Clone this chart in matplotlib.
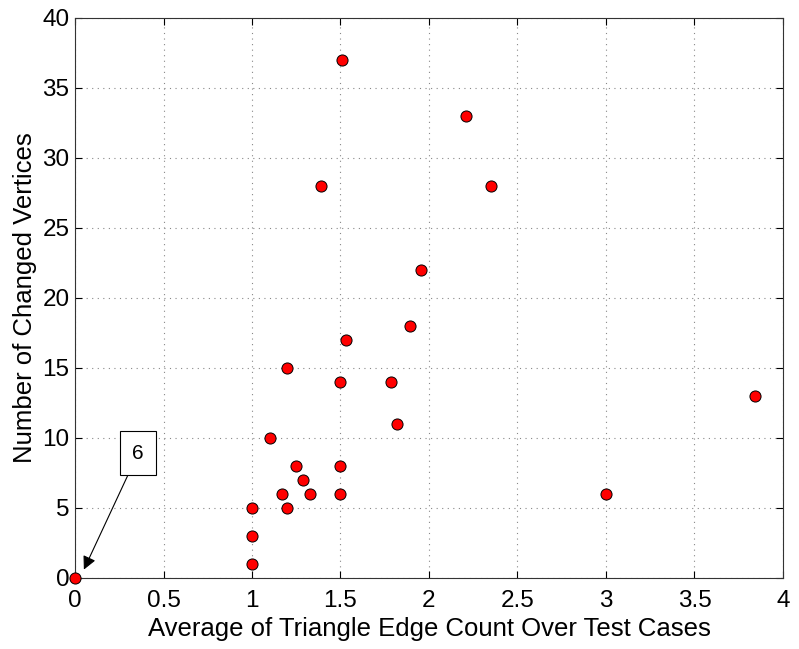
import matplotlib
matplotlib.use("Agg")
import matplotlib.pyplot as plt

x_vals = [0, 1, 1, 1, 1.1, 1.17, 1.2, 1.2, 1.25, 1.29, 1.33, 1.39, 1.5, 1.5, 1.5,
          1.51, 1.53, 1.785, 1.82, 1.89, 1.955, 2.21, 2.35, 3.0, 3.84]
y_vals = [0, 1, 3, 5, 10, 6, 15, 5, 8, 7, 6, 28, 14, 8, 6,
          37, 17, 14, 11, 18, 22, 33, 28, 6, 13]
x_ticks = [0, 0.5, 1, 1.5, 2, 2.5, 3, 3.5, 4]
x_tick_labels = ["0", "0.5", "1", "1.5", "2", "2.5", "3", "3.5", "4"]
y_ticks = [0, 5, 10, 15, 20, 25, 30, 35, 40]
annot_text = "6"
annot_xy = (0.05, 0.6)
annot_text_xy = (0.356, 8.9)

plt.rcParams['font.family'] = ['Liberation Sans', 'DejaVu Sans']

fig = plt.figure(figsize=(7.99, 6.49), dpi=100)
ax = fig.add_axes([0.0939, 0.1094, 0.886, 0.8629])

ax.plot(x_vals, y_vals, linestyle='none', marker='o', markersize=8,
        markerfacecolor='#ff0000', markeredgecolor='black', markeredgewidth=0.7,
        clip_on=False, zorder=3)

ax.set_xlim(0, 4)
ax.set_ylim(0, 40)
ax.set_xticks(x_ticks)
ax.set_xticklabels(x_tick_labels)
ax.set_yticks(y_ticks)
ax.tick_params(direction='in', length=5, width=0.8, labelsize=17.5,
               top=True, right=True, colors='black')
ax.tick_params(axis='x', pad=9)
ax.tick_params(axis='y', pad=4)
ax.grid(True, linestyle=(0, (1, 4)), color='#888888', linewidth=0.8)
for s in ax.spines.values():
    s.set_linewidth(0.8)
    s.set_color('#333333')

ax.set_xlabel("Average of Triangle Edge Count Over Test Cases", fontsize=18.5, labelpad=3)
ax.set_ylabel("Number of Changed Vertices", fontsize=18.5, labelpad=4)

ax.annotate(annot_text, xy=annot_xy, xytext=annot_text_xy,
            fontsize=15, ha='center', va='center',
            bbox=dict(boxstyle='square,pad=0.6', facecolor='white', edgecolor='black', linewidth=0.8),
            arrowprops=dict(arrowstyle='-|>', color='black', lw=0.8, mutation_scale=20,
                            shrinkA=0, shrinkB=0),
            zorder=4)

fig.savefig("out.png", dpi=100)
